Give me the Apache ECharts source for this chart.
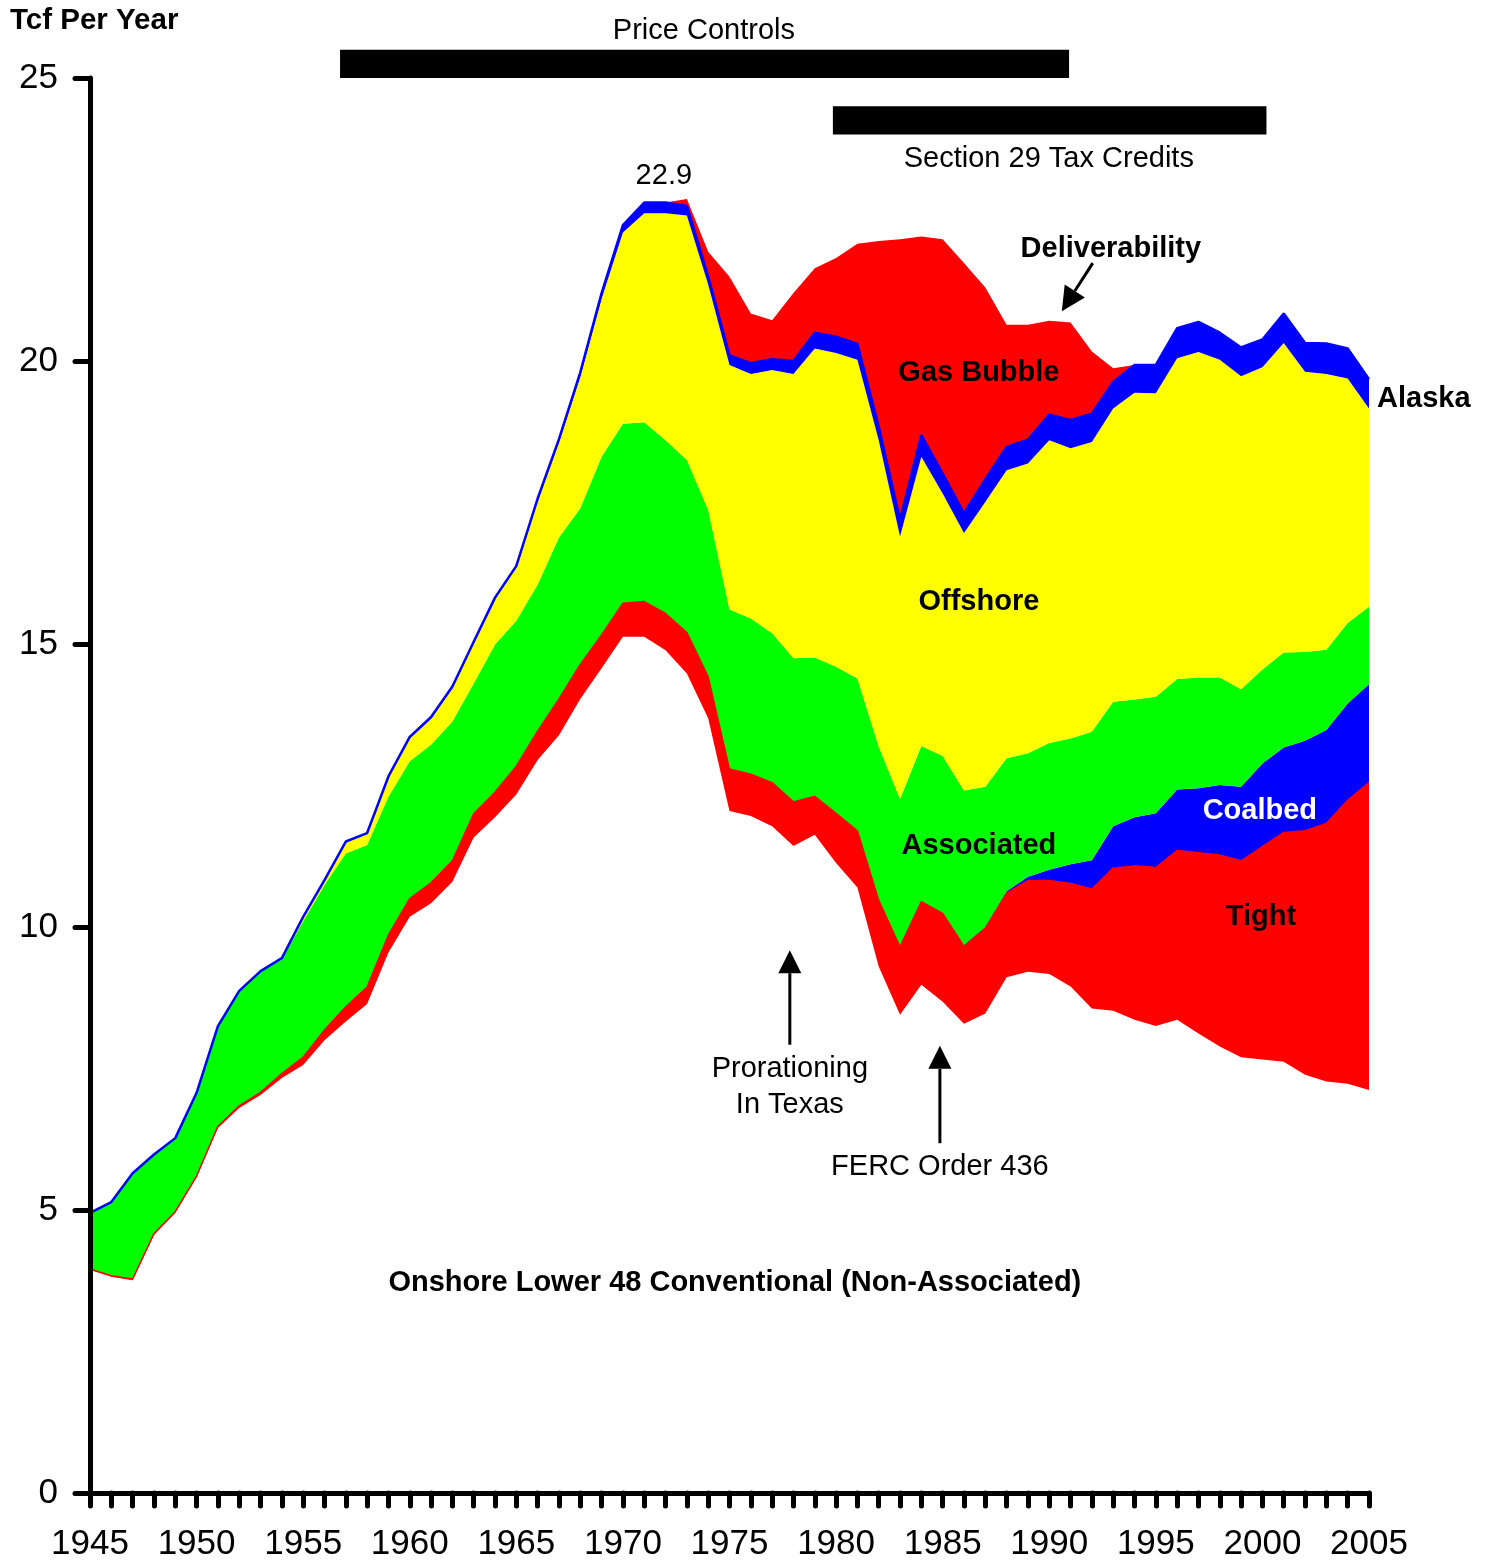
<!DOCTYPE html>
<html>
<head>
<meta charset="utf-8">
<title>US Gas Production by Source</title>
<script src="https://cdn.jsdelivr.net/npm/echarts@6/dist/echarts.min.js"></script>
<style>
    html, body { margin: 0; padding: 0; background: #ffffff; }
    #main { width: 1488px; height: 1562px; }
</style>
</head>
<body>
<div id="main"></div>
<script>
    var FONT = '"Liberation Sans", Arial, sans-serif';

    // years 1945 - 2005
    var years = [];
    for (var y = 1945; y <= 2005; y++) years.push(String(y));

    // Tcf per year, stacked from the bottom up
    var conventional = [3.94, 3.82, 3.76, 4.56, 4.95, 5.58, 6.45, 6.80, 7.03, 7.33,
        7.56, 8.00, 8.33, 8.64, 9.55, 10.18, 10.42, 10.80, 11.58, 11.94,
        12.34, 12.95, 13.39, 14.03, 14.57, 15.13, 15.13, 14.89, 14.48, 13.69,
        12.05, 11.96, 11.78, 11.43, 11.63, 11.13, 10.70, 9.30, 8.45, 8.98,
        8.68, 8.29, 8.47, 9.11, 9.21, 9.17, 8.95, 8.56, 8.52, 8.36,
        8.25, 8.36, 8.12, 7.89, 7.70, 7.66, 7.62, 7.39, 7.27, 7.23, 7.12];
    var tight = [0.02, 0.02, 0.02, 0.02, 0.02, 0.02, 0.03, 0.04, 0.05, 0.08,
        0.14, 0.18, 0.26, 0.30, 0.31, 0.32, 0.36, 0.37, 0.42, 0.44,
        0.50, 0.51, 0.64, 0.61, 0.59, 0.59, 0.62, 0.65, 0.72, 0.73,
        0.74, 0.74, 0.77, 0.78, 0.68, 0.88, 1.00, 1.17, 1.20, 1.47,
        1.56, 1.37, 1.51, 1.49, 1.61, 1.65, 1.82, 2.11, 2.52, 2.72,
        2.80, 2.99, 3.19, 3.38, 3.47, 3.76, 4.05, 4.31, 4.56, 5.01, 5.43];
    var coalbed = [0, 0, 0, 0, 0, 0, 0, 0, 0, 0,
        0, 0, 0, 0, 0, 0, 0, 0, 0, 0,
        0, 0, 0, 0, 0, 0, 0, 0, 0, 0,
        0, 0, 0, 0, 0, 0, 0, 0, 0, 0,
        0.01, 0.02, 0.02, 0.03, 0.07, 0.19, 0.34, 0.51, 0.74, 0.86,
        0.96, 1.08, 1.14, 1.24, 1.31, 1.47, 1.50, 1.59, 1.65, 1.71, 1.74];
    var associated = [0.99, 1.30, 1.87, 1.40, 1.30, 1.47, 1.77, 2.03, 2.14, 2.01,
        2.40, 2.56, 2.71, 2.51, 2.44, 2.43, 2.44, 2.46, 2.30, 2.61,
        2.57, 2.59, 2.85, 2.76, 3.15, 3.17, 3.17, 3.06, 3.05, 2.95,
        2.82, 2.75, 2.64, 2.54, 2.45, 2.59, 2.69, 2.72, 2.61, 2.75,
        2.77, 2.73, 2.48, 2.35, 2.18, 2.24, 2.22, 2.27, 2.20, 2.08,
        2.06, 1.95, 1.96, 1.90, 1.72, 1.66, 1.68, 1.57, 1.42, 1.42, 1.37];
    var offshore = [0, 0, 0, 0, 0, 0, 0, 0, 0, 0.03,
        0.08, 0.09, 0.21, 0.21, 0.35, 0.40, 0.46, 0.59, 0.71, 0.80,
        0.94, 1.47, 1.68, 2.32, 2.79, 3.38, 3.69, 4.01, 4.32, 3.98,
        4.32, 4.32, 4.65, 5.02, 5.46, 5.54, 5.63, 5.41, 4.64, 5.11,
        4.64, 4.55, 5.03, 5.09, 5.12, 5.35, 5.13, 5.12, 5.18, 5.42,
        5.36, 5.67, 5.75, 5.61, 5.53, 5.34, 5.47, 4.95, 4.87, 4.32, 3.50];
    var alaska = [0, 0, 0, 0, 0, 0, 0, 0, 0, 0,
        0, 0, 0, 0, 0.01, 0.03, 0.03, 0.03, 0.03, 0.03,
        0.03, 0.05, 0.06, 0.08, 0.10, 0.13, 0.19, 0.19, 0.17, 0.14,
        0.17, 0.19, 0.19, 0.23, 0.28, 0.29, 0.28, 0.24, 0.30, 0.38,
        0.35, 0.35, 0.40, 0.41, 0.42, 0.45, 0.50, 0.50, 0.47, 0.49,
        0.50, 0.53, 0.53, 0.48, 0.51, 0.49, 0.52, 0.51, 0.54, 0.53, 0.52];
    var gasBubble = [0, 0, 0, 0, 0, 0, 0, 0, 0, 0,
        0, 0, 0, 0, 0, 0, 0, 0, 0, 0,
        0, 0, 0, 0, 0, 0, 0, 0, 0.12, 0.44,
        1.39, 0.88, 0.69, 1.20, 1.14, 1.39, 1.77, 3.28, 4.95, 3.51,
        4.14, 4.42, 3.39, 2.16, 2.03, 1.66, 1.72, 1.10, 0.24, 0,
        0, 0, 0, 0, 0, 0, 0, 0, 0, 0, 0];

    function layer(name, data, color, lineWidth) {
        return {
            name: name,
            type: 'line',
            stack: 'total',
            data: data,
            showSymbol: false,
            symbol: 'none',
            silent: true,
            lineStyle: { width: lineWidth, color: color },
            areaStyle: { color: color, opacity: 1 }
        };
    }

    var chart = echarts.init(document.getElementById('main'));
    var option = {
        animation: false,
        backgroundColor: '#ffffff',
        textStyle: { fontFamily: FONT },
        grid: { left: 90, right: 119, top: 78, bottom: 69, containLabel: false, outerBoundsMode: 'none' },
        xAxis: {
            type: 'category',
            data: years,
            boundaryGap: false,
            z: 10,
            axisLine: { lineStyle: { color: '#000', width: 5, cap: 'round' } },
            axisTick: { show: true, interval: 0, length: 13, lineStyle: { color: '#000', width: 5, cap: 'round' } },
            axisLabel: { interval: 4, color: '#000', fontSize: 35, fontFamily: FONT, margin: 34 },
            splitLine: { show: false }
        },
        yAxis: {
            type: 'value',
            min: 0,
            max: 25,
            interval: 5,
            z: 10,
            axisLine: { show: true, lineStyle: { color: '#000', width: 5, cap: 'round' } },
            axisTick: { show: true, length: 15, lineStyle: { color: '#000', width: 5, cap: 'round' } },
            axisLabel: { color: '#000', fontSize: 35, fontFamily: FONT, margin: 32 },
            splitLine: { show: false }
        },
        series: [
            layer('Onshore Lower 48 Conventional', conventional, 'rgba(255,255,255,0)', 0),
            layer('Tight', tight, '#ff0000', 1.5),
            layer('Coalbed', coalbed, '#0000ff', 0),
            layer('Associated', associated, '#00ff00', 0),
            layer('Offshore', offshore, '#ffff00', 0),
            layer('Alaska', alaska, '#0000ff', 2.5),
            layer('Gas Bubble', gasBubble, '#ff0000', 0)
        ]
    };
    chart.setOption(option);

    // pixel position for a (fractional) year and a value
    function pt(year, v) {
        var a = chart.convertToPixel({ gridIndex: 0 }, [0, v]);
        var b = chart.convertToPixel({ gridIndex: 0 }, [60, v]);
        return [a[0] + (b[0] - a[0]) * (year - 1945) / 60, a[1]];
    }

    function label(text, year, v, bold, color) {
        var p = pt(year, v);
        return {
            type: 'text', x: p[0], y: p[1] + 2, z: 100,
            style: {
                text: text, fill: color || '#000', fontSize: 29,
                fontWeight: bold ? 'bold' : 'normal', fontFamily: FONT,
                align: 'center', verticalAlign: 'middle'
            }
        };
    }

    function bar(y0, y1, v0, v1) {
        var a = pt(y0, v1), b = pt(y1, v0);
        return {
            type: 'rect', z: 100,
            shape: { x: a[0], y: a[1], width: b[0] - a[0], height: b[1] - a[1] },
            style: { fill: '#000' }
        };
    }

    function arrow(from, to, head, half) {
        var dx = to[0] - from[0], dy = to[1] - from[1];
        var len = Math.sqrt(dx * dx + dy * dy);
        var ux = dx / len, uy = dy / len;
        var bx = to[0] - ux * head, by = to[1] - uy * head;
        return [
            { type: 'line', z: 100, shape: { x1: from[0], y1: from[1], x2: bx, y2: by },
              style: { stroke: '#000', lineWidth: 3 } },
            { type: 'polygon', z: 100,
              shape: { points: [to, [bx - uy * half, by + ux * half], [bx + uy * half, by - ux * half]] },
              style: { fill: '#000' } }
        ];
    }

    var g = [];
    g.push({
        type: 'text', x: 10, y: 21, z: 100,
        style: { text: 'Tcf Per Year', fill: '#000', fontSize: 29.5, fontWeight: 'bold',
                 fontFamily: FONT, align: 'left', verticalAlign: 'middle' }
    });
    g.push(label('Price Controls', 1973.8, 25.87, false));
    g.push(bar(1956.73, 1990.93, 25.0, 25.5));
    g.push(bar(1979.85, 2000.19, 24.0, 24.5));
    g.push(label('Section 29 Tax Credits', 1989.98, 23.6, false));
    g.push(label('22.9', 1971.92, 23.3, false));
    g.push(label('Deliverability', 1992.89, 22.01, true));
    g = g.concat(arrow(pt(1992.04, 21.73), pt(1990.59, 20.88), 24, 12));
    g.push(label('Gas Bubble', 1986.7, 19.82, true));
    g.push(label('Alaska', 2007.57, 19.36, true));
    g.push(label('Offshore', 1986.7, 15.78, true));
    g.push(label('Coalbed', 1999.88, 12.08, true, '#ffffff'));
    g.push(label('Associated', 1986.7, 11.47, true));
    g.push(label('Tight', 1999.93, 10.21, true));
    g = g.concat(arrow(pt(1977.83, 7.92), pt(1977.83, 9.59), 23, 11.5));
    g.push(label('Prorationing', 1977.83, 7.53, false));
    g.push(label('In Texas', 1977.83, 6.89, false));
    g = g.concat(arrow(pt(1984.87, 6.18), pt(1984.87, 7.90), 23, 11.5));
    g.push(label('FERC Order 436', 1984.87, 5.80, false));
    g.push(label('Onshore Lower 48 Conventional (Non-Associated)', 1975.25, 3.75, true));

    chart.setOption({ graphic: g });
</script>
</body>
</html>
